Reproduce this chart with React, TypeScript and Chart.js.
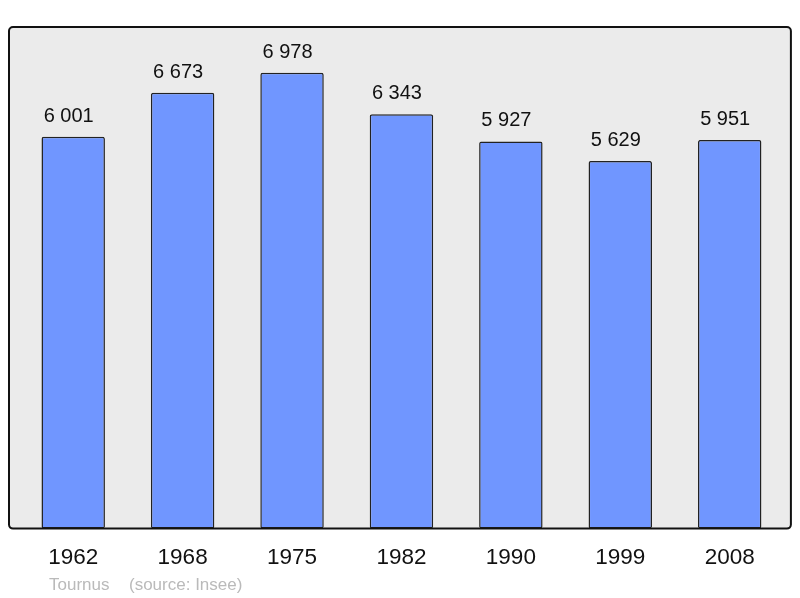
import React, { useEffect, useRef } from "react";
import { Chart, registerables } from "chart.js";

Chart.register(...registerables);

const years = ["1962", "1968", "1975", "1982", "1990", "1999", "2008"];
const population = [6001, 6673, 6978, 6343, 5927, 5629, 5951];
const valueLabels = ["6 001", "6 673", "6 978", "6 343", "5 927", "5 629", "5 951"];
const townName = "Tournus";
const sourceText = "(source: Insee)";

const FONT = "'Liberation Sans', Arial, sans-serif";

const framePlugin = {
  id: "frame",
  beforeDraw(chart: any) {
    const { ctx, chartArea } = chart;
    const x = chartArea.left - 9.5;
    const y = chartArea.top;
    const w = chartArea.right + 6.5 - x;
    const h = chartArea.bottom - y;
    ctx.save();
    ctx.beginPath();
    ctx.roundRect(x, y, w, h, 4);
    ctx.fillStyle = "#ebebeb";
    ctx.fill();
    ctx.restore();
  },
  afterDatasetsDraw(chart: any) {
    const { ctx, chartArea } = chart;
    const x = chartArea.left - 9.5;
    const y = chartArea.top;
    const w = chartArea.right + 6.5 - x;
    const h = chartArea.bottom - y;
    ctx.save();
    ctx.beginPath();
    ctx.roundRect(x, y, w, h, 4);
    ctx.lineWidth = 2;
    ctx.strokeStyle = "#111";
    ctx.stroke();
    // value labels
    const meta = chart.getDatasetMeta(0);
    ctx.font = `20px ${FONT}`;
    ctx.fillStyle = "#111";
    ctx.textAlign = "center";
    ctx.textBaseline = "alphabetic";
    meta.data.forEach((bar: any, i: number) => {
      ctx.fillText(valueLabels[i], bar.x - 4.5, bar.y - 15);
    });
    // footer
    ctx.font = `17px ${FONT}`;
    ctx.fillStyle = "#bababa";
    ctx.textAlign = "left";
    ctx.fillText(townName, 49, 590);
    ctx.fillText(sourceText, 129, 590);
    ctx.restore();
  },
};

export default function App() {
  const ref = useRef<HTMLCanvasElement>(null);
  useEffect(() => {
    const chart = new Chart(ref.current!, {
      type: "bar",
      data: {
        labels: years,
        datasets: [
          {
            data: population,
            backgroundColor: "#7096ff",
            borderColor: "#222222",
            borderWidth: 1.5,
            borderRadius: 2,
            borderSkipped: false,
            categoryPercentage: 1,
            barPercentage: 0.58,
          },
        ],
      },
      options: {
        responsive: false,
        animation: false,
        layout: { padding: { left: 18.5, right: 15.6, top: 27, bottom: 18.8 } },
        plugins: {
          legend: { display: false },
          tooltip: { enabled: false },
          title: { display: false },
        },
        scales: {
          x: {
            grid: { display: false },
            border: { display: false },
            ticks: {
              color: "#111",
              padding: 7.8,
              font: { family: FONT, size: 22.5 },
            },
          },
          y: {
            display: false,
            min: 0,
            max: 7680,
          },
        },
      },
      plugins: [framePlugin],
    });
    return () => chart.destroy();
  }, []);
  return (
    <div style={{ position: "fixed", left: 0, top: 0, width: 800, height: 598, background: "#fff" }}>
      <canvas ref={ref} width={800} height={598} style={{ display: "block" }} />
    </div>
  );
}
